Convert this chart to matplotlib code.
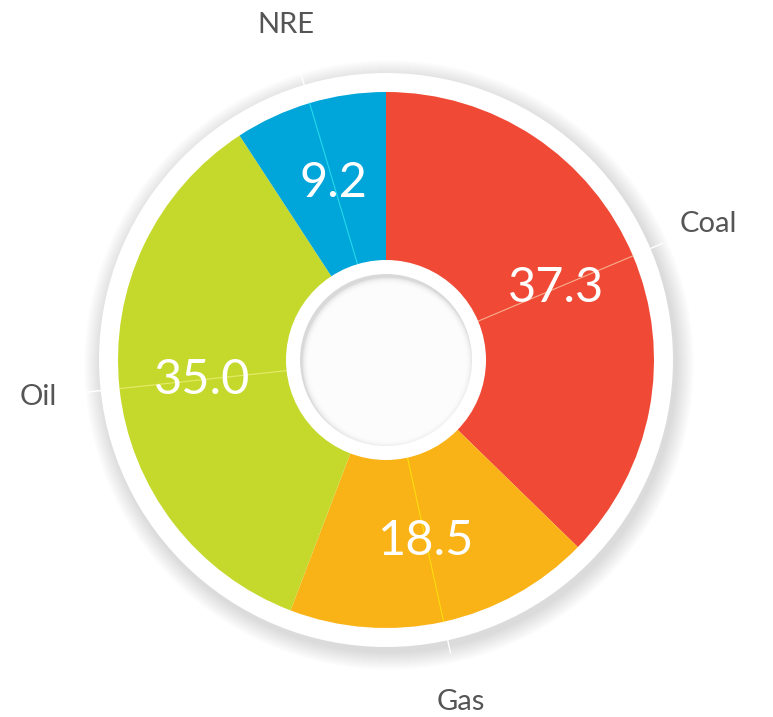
import numpy as np
import matplotlib.pyplot as plt
from matplotlib.patches import Circle

categories = ["Coal", "Gas", "Oil", "NRE"]
values = [37.3, 18.5, 35.0, 9.2]
value_labels = ["37.3", "18.5", "35.0", "9.2"]
colors = ["#F04A36", "#F9B317", "#C5D92D", "#00A5D9"]
leader_colors = ["#F9C9A3", "#FFE80A", "#EEF07A", "#2EE6F2"]

W, H = 773, 717
cx, cy = 386, 357
r_pie = 268
r_ring = 287
r_hole_ring = 100
r_hole = 86

fig = plt.figure(figsize=(W / 100, H / 100), dpi=100)
ax = fig.add_axes([0, 0, 1, 1])

# soft drop shadow around outer ring
for i in range(18):
    rr = r_ring + 18 - i
    ax.add_patch(Circle((cx + 3, cy - 5), rr, color="black", alpha=0.006,
                        lw=0, zorder=1))
ax.add_patch(Circle((cx, cy), r_ring, color="white", lw=0, zorder=2))

wedges, _ = ax.pie(values, colors=colors, startangle=90, counterclock=False,
                   radius=r_pie, center=(cx, cy),
                   wedgeprops=dict(linewidth=0))
for w in wedges:
    w.set_zorder(3)

# leader lines, value labels and category labels
for w, cat, lab, lc in zip(wedges, categories, value_labels, leader_colors):
    ang = np.deg2rad((w.theta1 + w.theta2) / 2)
    c, s = np.cos(ang), np.sin(ang)
    ax.plot([cx + r_hole_ring * c, cx + r_pie * c],
            [cy + r_hole_ring * s, cy + r_pie * s],
            color=lc, lw=0.8, alpha=0.8, zorder=4)
    ax.plot([cx + r_ring * c, cx + 300 * c],
            [cy + r_ring * s, cy + 300 * s],
            color="white", lw=1.0, zorder=4)
    ax.text(cx + 185 * c, cy + 185 * s, lab, color="white", fontsize=35,
            family="Lato", ha="center", va="center", zorder=6)
    ax.text(cx + 350 * c, cy + 350 * s, cat, color="#555555", fontsize=21,
            family="Lato", ha="center", va="center", zorder=6)

# inner white ring and shaded hole
ax.add_patch(Circle((cx, cy), r_hole_ring, color="white", lw=0, zorder=5))
ax.add_patch(Circle((cx, cy), r_hole, color="#D9D9D9", lw=0, zorder=5))
for i in range(14):
    rr = r_hole - 1 - i * 0.9
    ax.add_patch(Circle((cx + 1.5, cy - 2.5), rr, color="white", alpha=0.3,
                        lw=0, zorder=5))

ax.set_xlim(0, W)
ax.set_ylim(0, H)
ax.set_aspect("equal")
ax.axis("off")

fig.savefig("out.png", dpi=100, facecolor="white")
